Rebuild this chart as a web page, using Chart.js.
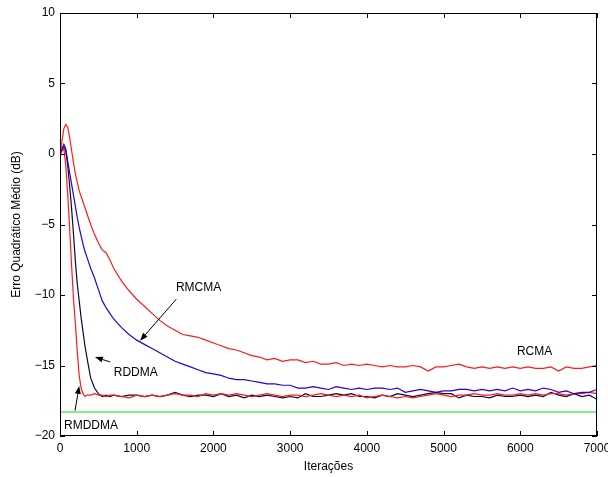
<!DOCTYPE html>
<html>
<head>
<meta charset="utf-8">
<script src="https://cdn.jsdelivr.net/npm/chart.js@4/dist/chart.umd.min.js"></script>
<style>
  html, body { margin: 0; padding: 0; background: #fff; }
  #wrap { width: 608px; height: 477px; }
</style>
</head>
<body>
<div id="wrap"><canvas id="chart"></canvas></div>
<script>
const iterations = [
  0, 25, 50, 75, 100, 125, 150, 175, 200, 225, 250, 275, 300, 325, 350,
  400, 450, 500, 550, 600, 650, 700,
  800, 900, 1000, 1100, 1200, 1300, 1400, 1500, 1600, 1700, 1800, 1900,
  2000, 2100, 2200, 2300, 2400, 2500, 2600, 2700, 2800, 2900,
  3000, 3100, 3200, 3300, 3400, 3500, 3600, 3700, 3800, 3900,
  4000, 4100, 4200, 4300, 4400, 4500, 4600, 4700, 4800, 4900,
  5000, 5100, 5200, 5300, 5400, 5500, 5600, 5700, 5800, 5900,
  6000, 6100, 6200, 6300, 6400, 6500, 6600, 6700, 6800, 6900, 7000
]

const rcma = [
  0, 0.9, 1.8, 2.1, 1.9, 1.2, 0.3, -0.6, -1.4, -2.0, -2.6, -3.0, -3.4, -3.8, -4.2,
  -5.0, -5.7, -6.3, -6.8, -7.0, -7.5, -8.1,
  -9.0, -9.7, -10.3, -10.8, -11.3, -11.8, -12.2, -12.5, -12.8, -12.9, -13.0, -13.2,
  -13.4, -13.6, -13.8, -13.9, -14.1, -14.3, -14.4, -14.6, -14.5, -14.7,
  -14.6, -14.6, -14.8, -14.7, -14.9, -14.9, -14.8, -15.0, -14.9, -15.0,
  -14.9, -15.0, -15.1, -15.0, -15.1, -15.1, -15.0, -15.1, -15.4, -15.1,
  -15.1, -15.0, -14.9, -15.1, -15.2, -15.1, -15.2, -15.1, -15.2, -15.1,
  -15.2, -15.1, -15.2, -15.2, -15.1, -15.4, -15.1, -15.2, -15.2, -15.1, -15.0
]

const rmcma = [
  0, 0.4, 0.7, 0.4, -0.5, -1.3, -2.1, -2.9, -3.7, -4.5, -5.2, -5.8, -6.4, -6.9, -7.3,
  -8.1, -8.8, -9.6, -10.4, -10.9, -11.3, -11.7,
  -12.3, -12.8, -13.2, -13.5, -13.8, -14.1, -14.4, -14.7, -14.9, -15.1, -15.3, -15.5,
  -15.6, -15.7, -15.9, -16.0, -16.0, -16.1, -16.2, -16.3, -16.3, -16.4,
  -16.4, -16.6, -16.6, -16.5, -16.6, -16.7, -16.5, -16.6, -16.7, -16.6,
  -16.7, -16.6, -16.6, -16.7, -16.6, -16.9, -16.8, -16.7, -16.8, -16.9,
  -16.8, -16.8, -16.7, -16.7, -16.8, -16.7, -16.8, -16.7, -16.8, -16.6,
  -16.8, -16.7, -16.8, -16.6, -16.7, -16.9, -16.8, -17.0, -16.9, -16.9, -16.7
]

const rddma = [
  0, 0.3, 0.5, 0.2, -0.8, -2.2, -3.8, -5.6, -7.6, -9.2, -10.4, -11.6, -12.6, -13.6, -14.4,
  -15.9, -16.6, -17.0, -17.2, -17.1, -17.2, -17.1,
  -17.2, -17.1, -17.1, -17.2, -17.1, -17.2, -17.1, -16.9, -17.1, -17.2, -17.1, -17.1,
  -17.2, -17.0, -17.2, -17.1, -17.3, -17.1, -17.2, -17.1, -17.2, -17.3,
  -17.2, -17.3, -17.0, -17.2, -17.2, -17.1, -17.0, -17.1, -17.0, -17.2,
  -17.2, -17.3, -17.1, -17.2, -17.0, -17.1, -17.2, -17.1, -17.0, -16.9,
  -17.0, -17.0, -17.3, -17.1, -17.2, -17.2, -17.3, -17.1, -17.2, -17.2,
  -17.1, -17.2, -17.1, -17.2, -16.9, -17.1, -17.2, -17.0, -17.2, -17.1, -17.4
]

const rmddma = [
  -0.1, 0.2, 0.4, -0.8, -2.8, -5.2, -7.8, -10.2, -12.0, -14.0, -15.7, -16.6, -17.0, -17.2, -17.1,
  -17.1, -17.0, -17.1, -17.1, -17.2, -17.1, -17.1,
  -17.2, -17.3, -17.1, -17.2, -17.1, -17.2, -17.1, -17.0, -17.1, -17.1, -17.2, -17.0,
  -17.1, -17.0, -17.1, -17.0, -17.1, -17.2, -17.1, -17.0, -17.1, -17.2,
  -17.1, -17.1, -17.2, -17.1, -17.0, -17.1, -17.2, -17.1, -17.2, -17.1,
  -17.3, -17.2, -17.1, -17.2, -17.3, -17.2, -17.3, -17.2, -17.1, -17.0,
  -17.1, -17.2, -17.1, -17.1, -17.0, -17.1, -17.1, -17.0, -17.1, -17.1,
  -17.0, -17.1, -17.0, -17.1, -17.0, -17.0, -17.1, -17.0, -17.0, -16.9, -17.0
]

const bound = -18.3

const xTicks = [0, 1000, 2000, 3000, 4000, 5000, 6000, 7000]
const yTicks = [-20, -15, -10, -5, 0, 5, 10]

// text labels and arrows, in data units
const notes = [
  { text: 'RMCMA', x: 1806, y: -9.45 },
  { text: 'RCMA', x: 6186, y: -14.0 },
  { text: 'RDDMA', x: 987, y: -15.5 },
  { text: 'RMDDMA', x: 404, y: -19.24 }
]
const arrows = [
  { from: [1515, -10.3], to: [1043, -13.25] },
  { from: [655, -14.75], to: [455, -14.4] },
  { from: [196, -18.2], to: [250, -16.45] }
]

const FONT = '"Liberation Sans", Arial, Helvetica, sans-serif'
const pts = ys => iterations.map((x, i) => ({ x, y: ys[i] }))
const fmt = v => String(v).replace('-', '\u2212')

const line = (label, data, color, width) => ({
  label,
  data: pts(data),
  borderColor: color,
  backgroundColor: color,
  borderWidth: width,
  pointRadius: 0,
  fill: false,
  tension: 0
})

const frame = {
  id: 'frame',
  afterDatasetsDraw(chart) {
    const { ctx, chartArea: a, scales: { x, y } } = chart
    ctx.save()
    ctx.strokeStyle = '#000'
    ctx.lineWidth = 1
    ctx.strokeRect(Math.round(a.left) + 0.5, Math.round(a.top) + 0.5,
      Math.round(a.right - a.left) - 1, Math.round(a.bottom - a.top) - 1)
    ctx.beginPath()
    xTicks.forEach(t => {
      const px = Math.round(x.getPixelForValue(t)) + 0.5
      ctx.moveTo(px, a.bottom); ctx.lineTo(px, a.bottom - 5)
      ctx.moveTo(px, a.top); ctx.lineTo(px, a.top + 5)
    })
    yTicks.forEach(t => {
      const py = Math.round(y.getPixelForValue(t)) + 0.5
      ctx.moveTo(a.left, py); ctx.lineTo(a.left + 5, py)
      ctx.moveTo(a.right, py); ctx.lineTo(a.right - 5, py)
    })
    ctx.stroke()

    ctx.fillStyle = '#000'
    ctx.font = '12px ' + FONT
    ctx.textAlign = 'center'
    ctx.textBaseline = 'middle'
    notes.forEach(n => ctx.fillText(n.text, x.getPixelForValue(n.x), y.getPixelForValue(n.y)))

    arrows.forEach(ar => {
      const x0 = x.getPixelForValue(ar.from[0]), y0 = y.getPixelForValue(ar.from[1])
      const x1 = x.getPixelForValue(ar.to[0]), y1 = y.getPixelForValue(ar.to[1])
      const ang = Math.atan2(y1 - y0, x1 - x0)
      const len = 8, half = 3
      ctx.beginPath()
      ctx.moveTo(x0, y0)
      ctx.lineTo(x1 - len * Math.cos(ang), y1 - len * Math.sin(ang))
      ctx.stroke()
      ctx.beginPath()
      ctx.moveTo(x1, y1)
      ctx.lineTo(x1 - len * Math.cos(ang) + half * Math.sin(ang), y1 - len * Math.sin(ang) - half * Math.cos(ang))
      ctx.lineTo(x1 - len * Math.cos(ang) - half * Math.sin(ang), y1 - len * Math.sin(ang) + half * Math.cos(ang))
      ctx.closePath()
      ctx.fill()
    })
    ctx.restore()
  }
}

new Chart(document.getElementById('chart'), {
  type: 'line',
  data: {
    datasets: [
      line('RCMA', rcma, '#ff1a1a', 1.2),
      line('RMCMA', rmcma, '#2800d8', 1.2),
      line('RMDDMA', rmddma, '#ff1a1a', 1.2),
      line('RDDMA', rddma, '#0a0a30', 1.2),
      line('Limite', iterations.map(() => bound), '#86ee86', 2)
    ]
  },
  options: {
    responsive: true,
    maintainAspectRatio: false,
    animation: false,
    events: [],
    layout: { padding: { top: 13, right: 0, left: 0, bottom: 0 } },
    plugins: { legend: { display: false }, tooltip: { enabled: false } },
    scales: {
      x: {
        type: 'linear',
        min: 0,
        max: 7000,
        afterBuildTicks: s => { s.ticks = xTicks.map(v => ({ value: v })) },
        afterFit: s => { s.height = 41; s.paddingRight = 11; s.paddingLeft = 0 },
        grid: { display: false, drawTicks: false },
        border: { display: false },
        ticks: { color: '#000', padding: 5, maxRotation: 0, callback: fmt, font: { family: FONT, size: 12 } },
        title: { display: true, text: 'Iterações', color: '#000', padding: { top: 0, bottom: 3 }, font: { family: FONT, size: 12 } }
      },
      y: {
        min: -20,
        max: 10,
        afterBuildTicks: s => { s.ticks = yTicks.map(v => ({ value: v })) },
        afterFit: s => { s.width = 60 },
        grid: { display: false, drawTicks: false },
        border: { display: false },
        ticks: { color: '#000', padding: 5, callback: fmt, font: { family: FONT, size: 12 } },
        title: { display: true, text: 'Erro Quadrático Médio (dB)', color: '#000', padding: { top: 9, bottom: 0 }, font: { family: FONT, size: 12 } }
      }
    }
  },
  plugins: [frame]
})
</script>
</body>
</html>
